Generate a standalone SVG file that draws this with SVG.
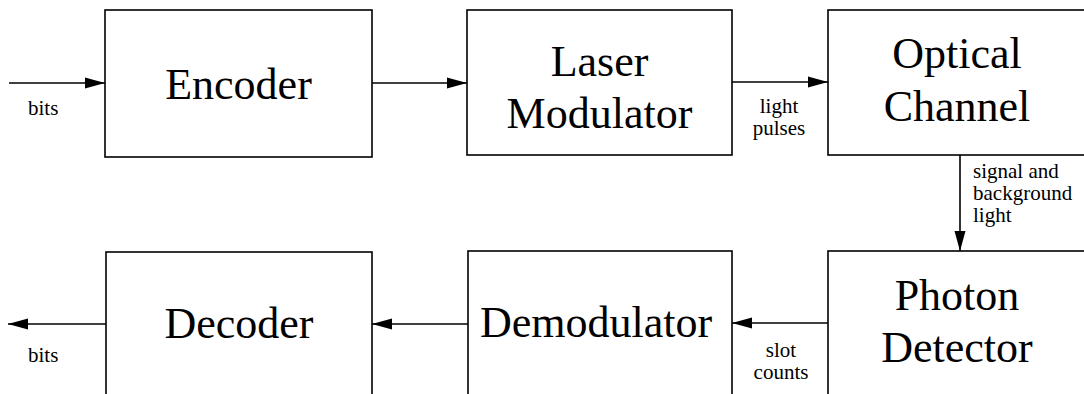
<svg xmlns="http://www.w3.org/2000/svg" width="1084" height="394" viewBox="0 0 1084 394">
<style>
.box{fill:#fff;stroke:#000;stroke-width:1.6}
.big{font-family:"Liberation Serif","Times New Roman",serif;font-size:44px;fill:#000;text-anchor:middle}
.lbl{font-family:"Liberation Serif","Times New Roman",serif;font-size:21px;fill:#000}
.mid{text-anchor:middle}
.c{stroke:#000;stroke-width:1.6;fill:none;marker-end:url(#ah)}
</style>
<defs>
<marker id="ah" markerUnits="userSpaceOnUse" markerWidth="20" markerHeight="12" refX="20" refY="6" orient="auto">
<path d="M0,0.5 L20,6 L0,11.5 z" fill="#000"/>
</marker>
</defs>
<rect width="1084" height="394" fill="#fff"/>
<g id="connectors">
<line class="c" x1="9" y1="83" x2="105" y2="83"/>
<line class="c" x1="372" y1="83" x2="467" y2="83"/>
<line class="c" x1="732" y1="82" x2="828" y2="82"/>
<line class="c" x1="960" y1="155" x2="960" y2="251"/>
<line class="c" x1="828" y1="323" x2="732" y2="323"/>
<line class="c" x1="468" y1="324" x2="372" y2="324"/>
<line class="c" x1="106" y1="324" x2="8" y2="324"/>
<text class="lbl" x="28" y="115">bits</text>
<text class="lbl mid" x="779" y="113">light</text>
<text class="lbl mid" x="779" y="135">pulses</text>
<text class="lbl" x="973" y="178">signal and</text>
<text class="lbl" x="973" y="200">background</text>
<text class="lbl" x="973" y="222">light</text>
<text class="lbl mid" x="781" y="357">slot</text>
<text class="lbl mid" x="781" y="379">counts</text>
<text class="lbl" x="28" y="362">bits</text>
</g>
<g id="encoder">
<rect class="box" x="105" y="10" width="267" height="147"/>
<text class="big" x="238.5" y="99">Encoder</text>
</g>
<g id="laser-modulator">
<rect class="box" x="467" y="10" width="265" height="145"/>
<text class="big" x="599.5" y="76">Laser</text>
<text class="big" x="599.5" y="128">Modulator</text>
</g>
<g id="optical-channel">
<rect class="box" x="828" y="10" width="260" height="145"/>
<text class="big" x="957" y="68">Optical</text>
<text class="big" x="957" y="121">Channel</text>
</g>
<g id="photon-detector">
<rect class="box" x="828" y="251" width="260" height="160"/>
<text class="big" x="957" y="310">Photon</text>
<text class="big" x="957" y="362">Detector</text>
</g>
<g id="demodulator">
<rect class="box" x="468" y="251" width="264" height="160"/>
<text class="big" x="596" y="337">Demodulator</text>
</g>
<g id="decoder">
<rect class="box" x="106" y="252" width="266" height="160"/>
<text class="big" x="239" y="338">Decoder</text>
</g>
</svg>
